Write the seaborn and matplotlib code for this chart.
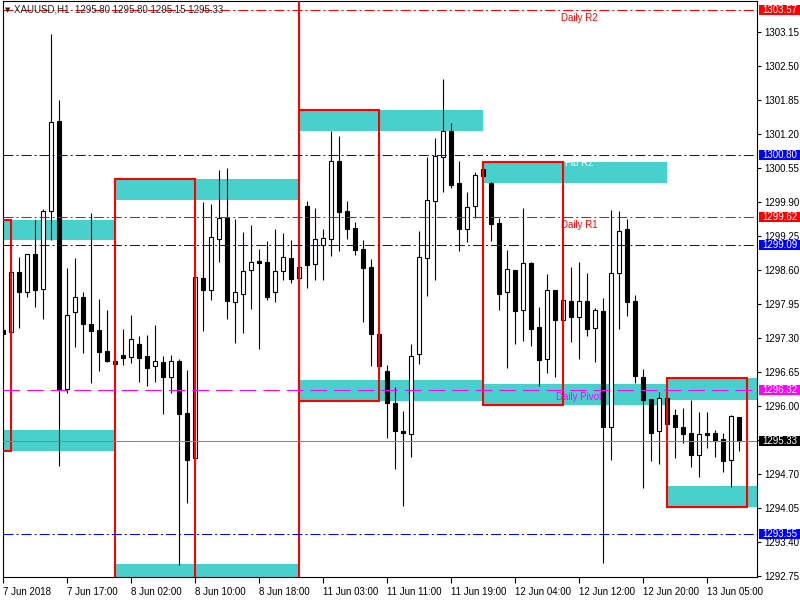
import numpy as np
import pandas as pd
import seaborn as sns
import matplotlib.pyplot as plt
from matplotlib.patches import Rectangle

# XAUUSD H1 candles
opens = [1297.46, 1297.42, 1298.57, 1298.18, 1298.91, 1298.24, 1299.73, 1301.45, 1296.33, 1297.80,
         1298.09, 1297.57, 1297.46, 1297.06, 1296.87, 1296.98, 1296.94, 1297.19, 1296.96, 1296.77,
         1296.85, 1296.56, 1296.87, 1295.87, 1295.01, 1298.45, 1298.22, 1299.20, 1299.60, 1297.99,
         1298.15, 1298.61, 1298.78, 1298.76, 1298.18, 1298.59, 1298.84, 1298.45, 1299.83, 1298.72,
         1299.08, 1299.20, 1300.69, 1299.73, 1299.41, 1299.01, 1298.66, 1297.38, 1296.67, 1296.06,
         1295.53, 1295.47, 1297.00, 1298.84, 1299.92, 1300.77, 1301.26, 1300.27, 1299.39, 1299.83,
         1300.54, 1300.27, 1299.50, 1298.18, 1298.61, 1297.84, 1298.74, 1297.52, 1296.90, 1298.22,
         1297.65, 1298.01, 1297.71, 1298.01, 1297.50, 1297.82, 1295.60, 1298.55, 1299.39, 1298.01,
         1296.56, 1296.14, 1295.53, 1296.16, 1295.83, 1295.60, 1295.49, 1295.07, 1295.49, 1295.49,
         1295.37, 1294.97, 1295.80]
highs = [1297.80, 1298.64, 1298.85, 1298.91, 1299.56, 1299.77, 1303.12, 1301.86, 1298.64, 1298.84,
         1298.18, 1299.70, 1298.05, 1297.84, 1296.90, 1297.48, 1297.75, 1297.34, 1297.36, 1297.55,
         1296.96, 1296.98, 1296.90, 1296.69, 1298.51, 1299.91, 1299.87, 1300.52, 1300.56, 1299.58,
         1299.33, 1299.47, 1299.01, 1299.16, 1299.39, 1299.31, 1299.18, 1298.70, 1299.92, 1299.79,
         1299.39, 1301.26, 1301.17, 1299.92, 1299.52, 1299.18, 1298.82, 1297.42, 1296.79, 1296.37,
         1295.91, 1297.19, 1299.35, 1300.77, 1301.13, 1302.26, 1301.42, 1300.69, 1300.10, 1300.48,
         1300.56, 1300.29, 1299.60, 1298.99, 1298.61, 1299.79, 1298.76, 1297.90, 1298.53, 1298.22,
         1298.13, 1298.66, 1298.76, 1298.55, 1297.88, 1298.07, 1299.75, 1299.73, 1299.58, 1298.13,
         1296.71, 1296.14, 1296.27, 1296.20, 1295.95, 1295.97, 1296.12, 1295.89, 1295.89, 1295.55,
         1295.49, 1295.83, 1295.80]
lows = [1296.58, 1297.34, 1297.50, 1298.09, 1297.90, 1297.67, 1299.18, 1294.86, 1296.25, 1297.13,
        1297.02, 1296.45, 1296.67, 1296.85, 1296.79, 1296.79, 1296.83, 1296.46, 1296.39, 1296.46,
        1295.85, 1296.25, 1292.97, 1294.15, 1294.97, 1297.44, 1298.03, 1298.76, 1297.67, 1297.21,
        1297.40, 1297.86, 1297.10, 1298.03, 1297.99, 1298.41, 1298.36, 1298.41, 1298.26, 1298.41,
        1298.41, 1298.87, 1298.97, 1299.20, 1298.89, 1297.61, 1296.77, 1296.73, 1295.39, 1294.80,
        1294.09, 1295.03, 1296.81, 1298.11, 1298.41, 1300.10, 1300.17, 1298.97, 1299.14, 1299.60,
        1300.36, 1299.16, 1297.84, 1296.73, 1297.19, 1297.25, 1297.15, 1296.39, 1296.64, 1296.56,
        1297.61, 1297.23, 1296.90, 1297.34, 1296.85, 1293.00, 1294.97, 1297.48, 1297.73, 1296.45,
        1294.44, 1294.95, 1294.90, 1295.62, 1295.01, 1295.30, 1294.84, 1294.65, 1295.20, 1295.03,
        1294.74, 1294.46, 1295.15]
closes = [1297.38, 1298.57, 1298.18, 1298.91, 1298.22, 1299.73, 1301.44, 1296.33, 1297.75, 1298.09,
          1297.57, 1297.44, 1297.04, 1296.87, 1296.81, 1296.92, 1297.29, 1296.92, 1296.73, 1296.87,
          1296.56, 1296.87, 1295.85, 1294.97, 1298.47, 1298.22, 1299.24, 1299.60, 1298.01, 1298.18,
          1298.59, 1298.76, 1298.74, 1298.09, 1298.59, 1298.85, 1298.43, 1298.66, 1298.70, 1299.20,
          1299.22, 1300.69, 1299.71, 1299.39, 1298.99, 1298.64, 1297.38, 1296.77, 1296.06, 1295.53,
          1295.49, 1296.96, 1298.85, 1299.94, 1300.79, 1301.26, 1300.23, 1299.39, 1299.81, 1300.42,
          1300.40, 1299.49, 1298.15, 1298.63, 1297.82, 1298.74, 1297.48, 1296.89, 1298.22, 1297.65,
          1298.03, 1297.71, 1298.01, 1297.48, 1297.84, 1295.60, 1298.55, 1299.35, 1297.99, 1296.58,
          1296.12, 1295.49, 1296.16, 1295.66, 1295.60, 1295.47, 1295.07, 1295.47, 1295.45, 1295.34,
          1294.95, 1295.81, 1295.33]

date_ticks = [0, 8, 16, 24, 32, 40, 48, 56, 64, 72, 80, 88]
date_labels = ['7 Jun 2018', '7 Jun 17:00', '8 Jun 02:00', '8 Jun 10:00', '8 Jun 18:00',
               '11 Jun 03:00', '11 Jun 11:00', '11 Jun 19:00', '12 Jun 04:00',
               '12 Jun 12:00', '12 Jun 20:00', '13 Jun 05:00']
price_ticks = [1292.75, 1293.40, 1294.05, 1294.70, 1295.35, 1296.00, 1296.65, 1297.30, 1297.95,
               1298.60, 1299.25, 1299.90, 1300.55, 1301.20, 1301.85, 1302.50, 1303.15]
# 1295.35 sits under the bid label, so its text is left out
price_tick_labels = ['1292.75', '1293.40', '1294.05', '1294.70', '', '1296.00', '1296.65',
                     '1297.30', '1297.95', '1298.60', '1299.25', '1299.90', '1300.55', '1301.20',
                     '1301.85', '1302.50', '1303.15']

# horizontal levels
level_prices = [1303.57, 1300.80, 1299.62, 1299.09, 1296.32, 1295.33, 1293.55]
level_names = ['Daily R2', 'Fib R2', 'Daily R1', '', 'Daily Pivot', '', '']

# zone boxes (bar index / price)
box_start = [-5, 14, -10, 37, 60, 83]
box_end = [1, 24, 37, 47, 70, 93]
box_top = [1299.57, 1300.34, 1306.00, 1301.67, 1300.67, 1296.54]
box_bottom = [1295.15, 1292.58, 1290.00, 1296.10, 1296.02, 1294.07]

band_start = [-5, -5, 14, 14, 37, 37, 60, 60, 83, 83]
band_end = [14, 14, 37, 37, 60, 60, 83, 83, 96, 96]
band_top = [1299.57, 1295.55, 1300.34, 1292.98, 1301.67, 1296.50, 1300.67, 1296.43, 1296.54, 1294.48]
band_bottom = [1299.17, 1295.15, 1299.94, 1292.58, 1301.26, 1296.10, 1300.27, 1296.02, 1296.12, 1294.07]

df = pd.DataFrame({'open': opens, 'high': highs, 'low': lows, 'close': closes})
df['idx'] = np.arange(len(df))
df['up'] = df['close'] >= df['open']

sns.set_theme(style='white')
plt.rcParams['font.family'] = ['Liberation Sans', 'DejaVu Sans']
plt.rcParams['lines.scale_dashes'] = False

level_colors = ['#FF0000', '#0000FF', '#FF0000', '#0000FF', '#FF00FF', '#778899', '#0000FF']
dashdot = (0, (7.2, 2.2, 1.4, 2.2))
level_styles = [dashdot, dashdot, dashdot, dashdot, (0, (12, 5)), '-', dashdot]
label_colors = ['#FF0000', 'white', '#FF0000', 'white', '#FF00FF', 'white', 'white']

fig = plt.figure(figsize=(8, 6), dpi=100)
ax = fig.add_axes([2.5 / 800, 23 / 600, 754.5 / 800, 576 / 600])

# zones
for s, e, t, b in zip(band_start, band_end, band_top, band_bottom):
    ax.add_patch(Rectangle((s, b), e - s, t - b, facecolor='#48D1CC', edgecolor='none', zorder=1))

# candles
ax.vlines(df['idx'], df['low'], df['high'], color='black', linewidth=0.8, zorder=2)
body_low = df[['open', 'close']].min(axis=1)
body_h = (df['close'] - df['open']).abs().clip(lower=0.015)
ax.bar(df['idx'], body_h, bottom=body_low, width=0.52,
       color=np.where(df['up'], 'white', 'black'), edgecolor='black', linewidth=0.8, zorder=3)

for s, e, t, b in zip(box_start, box_end, box_top, box_bottom):
    ax.add_patch(Rectangle((s, b), e - s, t - b, facecolor='none', edgecolor='#FF0000',
                           linewidth=1.5, zorder=4))

# levels
for p, c, ls, name, lc in zip(level_prices, level_colors, level_styles, level_names, label_colors):
    ax.axhline(p, color=c, linestyle=ls, linewidth=0.75, zorder=5)
    if name:
        ax.text(72, p - 0.145, name, color=lc, fontsize=7, ha='center', va='center', zorder=6)
    ax.add_patch(Rectangle((1.0027, p - 0.095), 0.0543, 0.19, transform=ax.get_yaxis_transform(),
                           facecolor='black' if c == '#778899' else c, edgecolor='none',
                           clip_on=False, zorder=7))
    ax.text(1.0068, p, f'{p:.2f}', transform=ax.get_yaxis_transform(), color='white',
            fontsize=7, ha='left', va='center', zorder=8, clip_on=False)

ax.set_xlim(-0.1, 94.21)
ax.set_ylim(1292.736, 1303.749)

ax.yaxis.tick_right()
ax.set_yticks(price_ticks)
ax.set_yticklabels(price_tick_labels)
ax.set_xticks(date_ticks)
ax.set_xticklabels(date_labels)
for lab in ax.get_xticklabels():
    lab.set_horizontalalignment('left')
ax.tick_params(axis='y', direction='out', length=3, width=0.8, pad=2, labelsize=7,
               colors='black', right=True, left=False)
ax.tick_params(axis='x', direction='out', length=4, width=0.8, pad=3, labelsize=7,
               colors='black', bottom=True)
for sp in ax.spines.values():
    sp.set_color('black')
    sp.set_linewidth(0.8)
ax.set_xlabel('')
ax.set_ylabel('')

fig.text(5 / 800, 1 - 10 / 600, '\u25bc', fontsize=5, va='center', family='DejaVu Sans')
fig.text(14 / 800, 1 - 10 / 600, 'XAUUSD,H1  1295.80 1295.80 1295.15 1295.33',
         fontsize=7, va='center')

fig.savefig('out.png', dpi=100)
